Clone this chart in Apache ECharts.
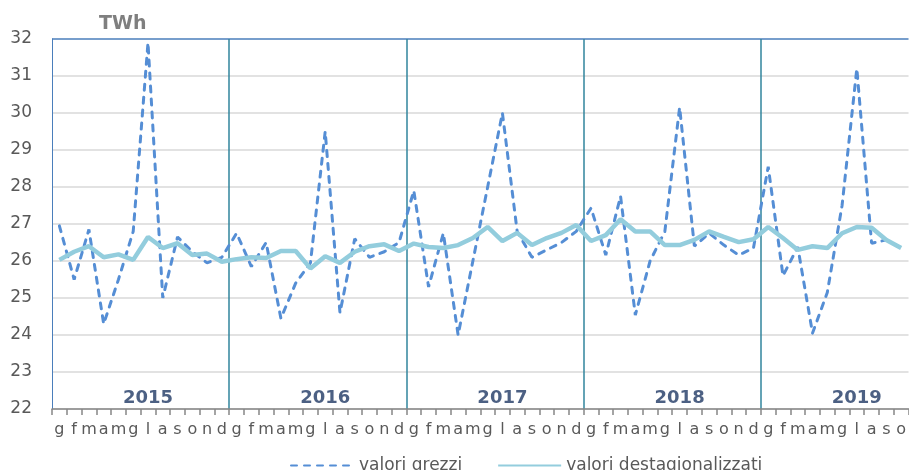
<!DOCTYPE html>
<html>
<head>
<meta charset="utf-8">
<script src="https://cdn.jsdelivr.net/npm/echarts/dist/echarts.min.js"></script>
<style>
  html, body { margin: 0; padding: 0; background: #fff; }
  #chart { width: 909px; height: 470px; }
</style>
</head>
<body>
<div id="chart"></div>
<script>
// mesi gen 2015 - ott 2019
var mesiAnno = ['g', 'f', 'm', 'a', 'm', 'g', 'l', 'a', 's', 'o', 'n', 'd'];
var anni = ['2015', '2016', '2017', '2018', '2019'];
var mesi = [];
anni.forEach(function (a, k) {
  var n = k < 4 ? 12 : 10;
  for (var i = 0; i < n; i++) mesi.push(mesiAnno[i]);
});

var valoriGrezzi = [
  26.95, 25.5, 26.85, 24.3, 25.5, 26.8, 31.9, 25.0, 26.65, 26.25, 25.95, 26.1,
  26.75, 25.85, 26.5, 24.45, 25.4, 25.95, 29.5, 24.6, 26.6, 26.1, 26.25, 26.5,
  27.9, 25.3, 26.75, 24.0, 26.0, 28.0, 30.0, 26.8, 26.1, 26.3, 26.5, 26.8,
  27.43, 26.16, 27.75, 24.54, 26.0, 26.8, 30.15, 26.4, 26.75, 26.43, 26.16, 26.35,
  28.55, 25.6, 26.38, 24.05, 25.15, 27.5, 31.2, 26.48, 26.57, 26.35
];
var valoriDest = [
  26.03, 26.25, 26.4, 26.1, 26.18, 26.03, 26.65, 26.35, 26.48, 26.16, 26.2, 25.98,
  26.05, 26.1, 26.08, 26.27, 26.27, 25.8, 26.13, 25.95, 26.25, 26.4, 26.45, 26.27,
  26.47, 26.38, 26.35, 26.43, 26.62, 26.92, 26.54, 26.76, 26.43, 26.62, 26.76, 26.97,
  26.54, 26.7, 27.13, 26.8, 26.8, 26.43, 26.43, 26.57, 26.8, 26.65, 26.51, 26.59,
  26.92, 26.62, 26.3, 26.4, 26.35, 26.75, 26.92, 26.9, 26.57, 26.35
];

var font = 'DejaVu Sans';
var myChart = echarts.init(document.getElementById('chart'));

// etichette degli anni a luglio di ogni anno
var etichetteAnni = anni.map(function (a, k) {
  return { name: a, value: [k * 12 + 6, 22.3] };
});

// separatori anno (gen 2016..2019); l'ultima linea, sul bordo destro, resta invisibile
var coloriSeparatori = ['#31859c', '#31859c', '#31859c', '#31859c', 'rgba(255,255,255,0)'];
// griglia orizzontale 22..32: l'ultima (32) fa da bordo superiore blu
var coloriGriglia = ['#d9d9d9', '#d9d9d9', '#d9d9d9', '#d9d9d9', '#d9d9d9', '#d9d9d9',
  '#d9d9d9', '#d9d9d9', '#d9d9d9', '#d9d9d9', '#4a7ebb'];

var option = {
  backgroundColor: '#ffffff',
  animation: false,
  title: {
    text: 'TWh',
    left: 94,
    top: 10,
    textStyle: { color: '#7f7f7f', fontFamily: font, fontSize: 19, fontWeight: 'bold' }
  },
  // bordo destro fuori dal canvas, come nel grafico originale
  grid: { left: 52, right: -3, top: 39, bottom: 61 },
  legend: {
    left: 285,
    top: 452,
    itemWidth: 63,
    itemHeight: 14,
    itemGap: 35,
    data: ['valori grezzi', 'valori destagionalizzati'],
    itemStyle: { opacity: 0 },
    textStyle: { color: '#595959', fontFamily: font, fontSize: 17 }
  },
  xAxis: {
    type: 'category',
    data: mesi,
    boundaryGap: true,
    axisLine: { lineStyle: { color: '#868686', width: 1.5 } },
    axisTick: { show: true, interval: 0, length: 6, lineStyle: { color: '#868686', width: 1.5 } },
    axisLabel: { interval: 0, color: '#595959', fontFamily: font, fontSize: 16, margin: 13 },
    splitLine: {
      show: true,
      interval: function (index) { return index > 0 && index % 12 === 0; },
      lineStyle: { color: coloriSeparatori, width: 1.5 }
    }
  },
  yAxis: {
    type: 'value',
    min: 22,
    max: 32,
    interval: 1,
    axisLine: { show: true, lineStyle: { color: '#4a7ebb', width: 1 } },
    axisTick: { show: false },
    axisLabel: { color: '#595959', fontFamily: font, fontSize: 17, margin: 20 },
    splitLine: { lineStyle: { color: coloriGriglia, width: 1.5 } }
  },
  series: [
    {
      name: 'valori grezzi',
      type: 'line',
      data: valoriGrezzi,
      symbol: 'none',
      lineStyle: { color: '#558ed5', width: 3, type: [6, 7], cap: 'round' },
      itemStyle: { color: '#558ed5' },
      z: 3
    },
    {
      name: 'valori destagionalizzati',
      type: 'line',
      data: valoriDest,
      symbol: 'none',
      lineStyle: { color: '#93cddd', width: 4.5 },
      itemStyle: { color: '#93cddd' },
      z: 4
    },
    {
      name: 'anni',
      type: 'scatter',
      data: etichetteAnni,
      symbolSize: 0,
      silent: true,
      label: {
        show: true,
        position: 'inside',
        formatter: '{b}',
        color: '#1f3864',
        fontFamily: font,
        fontSize: 18,
        fontWeight: 'bold'
      },
      z: 5
    }
  ]
};

myChart.setOption(option);
window.onresize = function () { myChart.resize(); };
</script>
</body>
</html>
